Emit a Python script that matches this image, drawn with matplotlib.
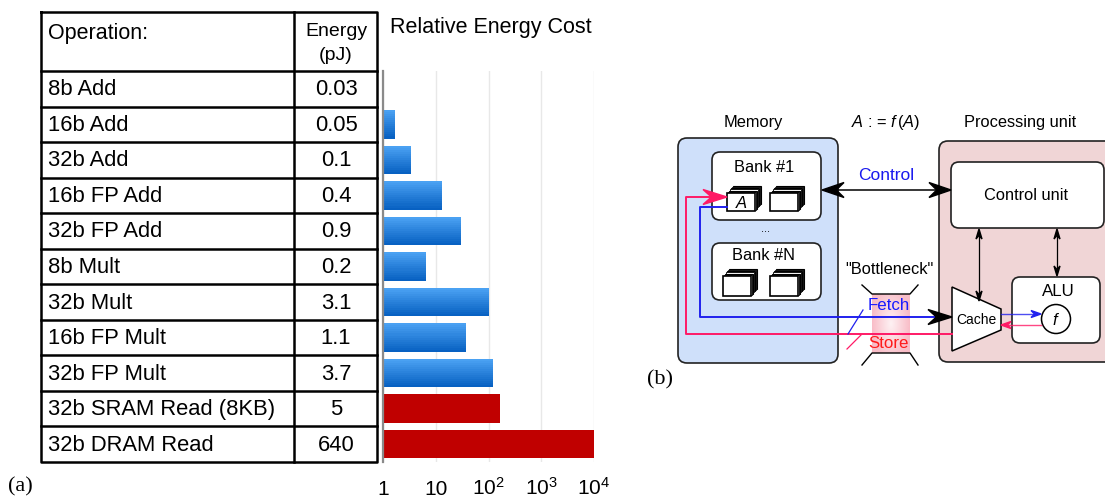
import numpy as np
import matplotlib
matplotlib.use('Agg')
import matplotlib.pyplot as plt
from matplotlib.patches import FancyBboxPatch, Polygon, Circle, Rectangle
from matplotlib.transforms import blended_transform_factory

plt.rcParams['font.family'] = ['Liberation Sans', 'DejaVu Sans']
plt.rcParams['mathtext.fontset'] = 'custom'
plt.rcParams['mathtext.rm'] = 'Liberation Sans'
plt.rcParams['mathtext.it'] = 'Liberation Sans:italic'

# dados da tabela (a)
operacoes = ['8b Add', '16b Add', '32b Add', '16b FP Add', '32b FP Add', '8b Mult',
             '32b Mult', '16b FP Mult', '32b FP Mult', '32b SRAM Read (8KB)', '32b DRAM Read']
energia_pj = [0.03, 0.05, 0.1, 0.4, 0.9, 0.2, 3.1, 1.1, 3.7, 5, 640]
tipo = ['calc'] * 9 + ['mem'] * 2
ticks_x = [1, 10, 100, 1000, 10000]
ticks_txt = ['1', '10', '10$^{2}$', '10$^{3}$', '10$^{4}$']

energia = np.array(energia_pj)
relativo = energia / energia[0]

fig = plt.figure(figsize=(11.05, 4.97), dpi=100)

# eixo "pixel" para tabela e diagrama
ax0 = fig.add_axes([0, 0, 1, 1])
ax0.set_xlim(0, 1105)
ax0.set_ylim(497, 0)
ax0.axis('off')

# --- tabela ---
x_esq, x_div, x_dir = 41, 294, 377
y_topo, y_cab = 12, 71
alt_linha = (462 - y_cab) / len(operacoes)
lw = 1.8
ax0.plot([x_esq, x_dir, x_dir, x_esq, x_esq], [y_topo, y_topo, 462, 462, y_topo], color='black', lw=lw)
ax0.plot([x_div, x_div], [y_topo, 462], color='black', lw=lw)
ax0.plot([x_esq, x_dir], [y_cab, y_cab], color='black', lw=lw)
ax0.text(48, 33, 'Operation:', fontsize=15.5, va='center', ha='left')
ax0.text(336, 31, 'Energy', fontsize=14, va='center', ha='center')
ax0.text(336, 56, '(pJ)', fontsize=14, va='center', ha='center')
for i, (op, e) in enumerate(zip(operacoes, energia_pj)):
    yc = y_cab + (i + 0.5) * alt_linha
    if i > 0:
        yl = y_cab + i * alt_linha
        ax0.plot([x_esq, x_dir], [yl, yl], color='black', lw=lw)
    ax0.text(48, yc + 1, op, fontsize=15.8, va='center', ha='left')
    ax0.text(336, yc + 1, f'{e:g}', fontsize=15.8, va='center', ha='center')

ax0.text(390, 28, 'Relative Energy Cost', fontsize=15.5, va='center', ha='left')
ax0.text(8, 487, '(a)', fontsize=16, va='center', ha='left', family='Liberation Serif')

# --- barras (escala log) ---
axb = fig.add_axes([383 / 1105, 35 / 497, (594 - 383) / 1105, 391 / 497])
axb.set_facecolor('none')
axb.set_xscale('log')
axb.set_xlim(1, 1e4)
axb.set_ylim(len(operacoes) - 0.5, -0.5)
h = 0.8
n_fatias = 14
azul_claro = np.array([0.29, 0.63, 0.95])
azul_escuro = np.array([0.03, 0.38, 0.76])
for i, (r, t) in enumerate(zip(relativo, tipo)):
    if t == 'mem':
        axb.barh(i, r - 1, left=1, height=h, color='#c00000')
    else:
        for k in range(n_fatias):
            f = k / (n_fatias - 1)
            cor = azul_claro * (1 - f) + azul_escuro * f
            yk = i - h / 2 + (k + 0.5) * h / n_fatias
            axb.barh(yk, r - 1, left=1, height=h / n_fatias * 1.05, color=cor, linewidth=0)
axb.set_xticks(ticks_x)
axb.set_xticklabels([])
axb.xaxis.set_minor_locator(matplotlib.ticker.NullLocator())
axb.tick_params(axis='x', length=0)
# rótulos alinhados pela linha de base
trans = blended_transform_factory(axb.transData, axb.transAxes)
for xv, txt in zip(ticks_x, ticks_txt):
    axb.text(xv, -0.085, txt, transform=trans, fontsize=15, ha='center', va='baseline', clip_on=False)
axb.set_yticks([])
axb.grid(axis='x', color='#e8e8e8', lw=1)
axb.set_axisbelow(True)
for s in ['top', 'right', 'bottom']:
    axb.spines[s].set_visible(False)
axb.spines['left'].set_color('#8a8a8a')
axb.spines['left'].set_linewidth(1.6)


# --- diagrama (b) ---
def ponta(ax, tip, d, comp, larg, cor, z=6):
    d = np.array(d, dtype=float)
    d = d / np.linalg.norm(d)
    nrm = np.array([-d[1], d[0]])
    tip = np.array(tip, dtype=float)
    pts = [tip, tip - comp * d + larg / 2 * nrm, tip - 0.65 * comp * d, tip - comp * d - larg / 2 * nrm]
    ax.add_patch(Polygon(pts, closed=True, color=cor, zorder=z))


def caixa(ax, x0, y0, x1, y1, cor, r=8, z=2, lw=1.2):
    ax.add_patch(FancyBboxPatch((x0, y0), x1 - x0, y1 - y0,
                                boxstyle=f'round,pad=0,rounding_size={r}',
                                fc=cor, ec='#222222', lw=lw, zorder=z))


def pilha(ax, x0, y0, x1, y1, rotulo=None):
    for k in range(3, 0, -1):
        ax.add_patch(Rectangle((x0 + 2 * k, y0 - 2.3 * k), x1 - x0, y1 - y0,
                               fc='#333333', ec='black', lw=0.8, zorder=4))
        ax.add_patch(Rectangle((x0 + 2 * k - 0.7, y0 - 2.3 * k + 0.8), x1 - x0, y1 - y0,
                               fc='white', ec='black', lw=0.6, zorder=4))
    ax.add_patch(Rectangle((x0, y0), x1 - x0, y1 - y0, fc='white', ec='black', lw=1.2, zorder=5))
    if rotulo:
        ax.text((x0 + x1) / 2, (y0 + y1) / 2 + 1, rotulo, fontsize=12, style='italic',
                ha='center', va='center', zorder=6)


fs = 11.8
ax0.text(753, 122, 'Memory', fontsize=fs, ha='center', va='center')
ax0.text(886, 122, '$A$ : = $f\\,(A)$', fontsize=fs, ha='center', va='center')
ax0.text(1020, 122, 'Processing unit', fontsize=fs, ha='center', va='center')

caixa(ax0, 678, 138, 838, 363, '#cfe0fa', r=9, z=1)
caixa(ax0, 939, 141, 1130, 362, '#f0d5d6', r=9, z=1)

caixa(ax0, 712, 152, 821, 220, 'white', r=8)
ax0.text(764, 167, 'Bank #1', fontsize=fs, ha='center', va='center', zorder=3)
pilha(ax0, 727, 193, 755, 211, 'A')
pilha(ax0, 770, 193, 798, 211)
ax0.text(765, 229, '...', fontsize=8, ha='center', va='center')
caixa(ax0, 712, 243, 821, 300, 'white', r=8)
ax0.text(764, 256, 'Bank #N', fontsize=fs, ha='center', va='center', zorder=3)
pilha(ax0, 723, 276, 751, 296)
pilha(ax0, 770, 276, 798, 296)

caixa(ax0, 951, 162, 1104, 228, 'white', r=8)
ax0.text(1026, 195, 'Control unit', fontsize=fs, ha='center', va='center', zorder=3)
caixa(ax0, 1012, 277, 1100, 343, 'white', r=8)
ax0.text(1058, 291, 'ALU', fontsize=12.2, ha='center', va='center', zorder=3)
ax0.add_patch(Circle((1056, 319), 14.5, fc='white', ec='black', lw=1.1, zorder=4))
ax0.text(1056, 320, '$f$', fontsize=12, ha='center', va='center', zorder=5)
ax0.add_patch(Polygon([(952, 287), (1001, 309), (1001, 330), (952, 351)], closed=True,
                      fc='white', ec='black', lw=1.1, zorder=4))
ax0.text(976, 320, 'Cache', fontsize=10, ha='center', va='center', zorder=5)

# controle
ax0.plot([830, 945], [190, 190], color='black', lw=1.1, zorder=5)
ponta(ax0, (822, 190), (-1, 0), 22, 15, 'black')
ponta(ax0, (951, 190), (1, 0), 22, 15, 'black')
ax0.text(886, 176, 'Control', fontsize=12.5, color='#1a1aee', ha='center', va='center')
ax0.plot([979, 979], [235, 296], color='black', lw=0.9, zorder=5)
ponta(ax0, (979, 229), (0, -1), 10, 6, 'black')
ponta(ax0, (979, 301), (0, 1), 10, 6, 'black')
ax0.plot([1057, 1057], [235, 271], color='black', lw=0.9, zorder=5)
ponta(ax0, (1057, 229), (0, -1), 10, 6, 'black')
ponta(ax0, (1057, 276), (0, 1), 10, 6, 'black')

# gargalo
yy, xx = np.mgrid[-1:1:60j, -1:1:40j]
dist = np.clip(np.sqrt(xx ** 2 + (yy * 0.8) ** 2), 0, 1)
brilho = np.zeros((60, 40, 4))
brilho[..., 0] = 0.96
brilho[..., 1] = 0.55
brilho[..., 2] = 0.62
brilho[..., 3] = 0.12 + 0.45 * dist
ax0.imshow(brilho, extent=(872, 910, 353, 294), origin='upper', zorder=1, aspect='auto')
ax0.set_xlim(0, 1105)
ax0.set_ylim(497, 0)
ax0.plot([862, 872, 910, 918], [285, 294, 294, 285], color='black', lw=1.0)
ax0.plot([862, 872, 910, 918], [365, 353, 353, 365], color='black', lw=1.0)
ax0.text(889, 270, '"Bottleneck"', fontsize=fs, ha='center', va='center')
ax0.text(889, 306, 'Fetch', fontsize=12.2, color='#1a1aff', ha='center', va='center', zorder=3)
ax0.text(889, 343, 'Store', fontsize=12.2, color='#ff1a1a', ha='center', va='center', zorder=3)

azul = '#2020ee'
rosa = '#ff1a66'
ax0.plot([727, 700, 700, 935], [207, 207, 317, 317], color=azul, lw=1.4, zorder=5)
ponta(ax0, (952, 317), (1, 0), 24, 15, 'black')
ax0.plot([952, 686, 686, 712], [334, 334, 197, 197], color=rosa, lw=1.4, zorder=5)
ponta(ax0, (727, 197), (1, 0), 24, 15, rosa)
ax0.plot([848, 863], [334, 310], color=azul, lw=0.9, zorder=5)
ax0.plot([847, 861], [349, 335], color=rosa, lw=0.9, zorder=5)
ax0.plot([1001, 1034], [314, 314], color=azul, lw=1.0, zorder=5, alpha=0.8)
ponta(ax0, (1041, 314), (1, 0), 10, 7, azul)
ax0.plot([1008, 1041], [325, 325], color=rosa, lw=1.0, zorder=5, alpha=0.8)
ponta(ax0, (1001, 325), (-1, 0), 10, 7, rosa)

ax0.text(647, 380, '(b)', fontsize=16, va='center', ha='left', family='Liberation Serif')

fig.savefig('out.png', dpi=100)
